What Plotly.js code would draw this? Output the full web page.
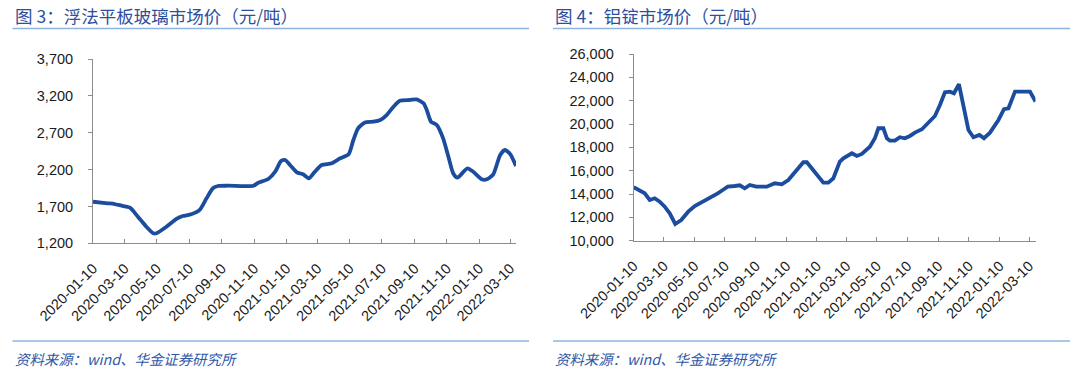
<!DOCTYPE html>
<html>
<head>
<meta charset="utf-8">
<script src="https://cdn.plot.ly/plotly-3.0.1.min.js"></script>
<style>
html,body{margin:0;padding:0;background:#fff;}
#chart{width:1080px;height:373px;}
</style>
</head>
<body>
<div id="chart"></div>
<script>
// 图3：浮法平板玻璃市场价（元/吨）
const glassDates = ['2020-01-10','2020-02-07','2020-02-20','2020-03-04','2020-03-20','2020-04-04','2020-04-20','2020-05-03','2020-05-09','2020-05-28','2020-06-16','2020-06-28','2020-07-14','2020-07-30','2020-08-12','2020-08-24','2020-09-03','2020-09-22','2020-11-09','2020-11-18','2020-12-07','2020-12-20','2020-12-31','2021-01-08','2021-01-17','2021-01-30','2021-02-11','2021-02-22','2021-03-05','2021-03-18','2021-04-06','2021-04-22','2021-05-08','2021-05-17','2021-05-26','2021-06-08','2021-06-24','2021-07-07','2021-07-19','2021-08-01','2021-08-13','2021-09-01','2021-09-14','2021-09-27','2021-10-03','2021-10-11','2021-10-22','2021-11-03','2021-11-13','2021-11-22','2021-11-30','2021-12-19','2021-12-30','2022-01-15','2022-01-25','2022-02-06','2022-02-19','2022-02-28','2022-03-10','2022-03-21'];
const glassValues = [1764,1743,1733,1710,1683,1561,1425,1336,1336,1425,1530,1570,1593,1652,1810,1946,1977,1981,1981,2022,2072,2171,2316,2330,2262,2163,2136,2082,2171,2262,2285,2353,2407,2601,2760,2840,2850,2873,2940,3053,3134,3144,3153,3099,3008,2850,2805,2624,2375,2150,2090,2217,2171,2068,2068,2136,2398,2466,2410,2249];

// 图4：铝锭市场价（元/吨）
const alDates = ['2020-01-10','2020-02-01','2020-02-11','2020-02-21','2020-03-02','2020-03-12','2020-03-22','2020-04-02','2020-04-14','2020-04-28','2020-05-11','2020-05-21','2020-06-03','2020-06-17','2020-06-26','2020-07-06','2020-07-16','2020-07-30','2020-08-09','2020-08-19','2020-08-29','2020-09-11','2020-10-02','2020-10-18','2020-11-01','2020-11-14','2020-12-01','2020-12-14','2020-12-21','2021-01-06','2021-01-23','2021-02-02','2021-02-12','2021-02-25','2021-03-04','2021-03-21','2021-03-31','2021-04-10','2021-04-26','2021-05-06','2021-05-13','2021-05-23','2021-05-30','2021-06-05','2021-06-15','2021-06-25','2021-07-05','2021-07-15','2021-07-25','2021-08-08','2021-08-21','2021-09-03','2021-09-13','2021-09-23','2021-10-03','2021-10-11','2021-10-21','2021-10-30','2021-11-09','2021-11-19','2021-12-01','2021-12-10','2021-12-22','2022-01-08','2022-01-19','2022-01-28','2022-02-07','2022-02-10','2022-02-20','2022-03-12','2022-03-23'];
const alValues = [14578,14063,13489,13635,13343,12915,12349,11432,11775,12486,12975,13206,13489,13772,14063,14347,14629,14689,14749,14492,14775,14629,14629,14921,14835,15204,16061,16721,16721,15915,14972,14972,15350,16772,17064,17493,17261,17433,18058,18779,19636,19636,18779,18573,18573,18865,18779,18976,19259,19550,20065,20690,21634,22722,22774,22637,23408,21488,19490,18865,19062,18779,19259,20347,21265,21350,22491,22774,22774,22774,21916];

const tickDates = ['2020-01-10','2020-03-10','2020-05-10','2020-07-10','2020-09-10','2020-11-10','2021-01-10','2021-03-10','2021-05-10','2021-07-10','2021-09-10','2021-11-10','2022-01-10','2022-03-10'];
const tickLabels = tickDates.slice();

const leftTitle = '图 3：浮法平板玻璃市场价（元/吨）';
const rightTitle = '图 4：铝锭市场价（元/吨）';
const sourceText = '资料来源：wind、华金证券研究所';

const W = 1080, H = 373;
const px = v => v / W;
const py = v => 1 - v / H;

const lineColor = '#1B4C9E';
const axisColor = '#8c8c8c';
const tickFont = {family: '"Liberation Sans", Arial, sans-serif', size: 14.5, color: '#1a1a1a'};

const traces = [
  {x: glassDates, y: glassValues, type: 'scatter', mode: 'lines', xaxis: 'x', yaxis: 'y',
   line: {color: lineColor, width: 3.8, shape: 'spline', smoothing: 0.6}, hoverinfo: 'x+y'},
  {x: alDates, y: alValues, type: 'scatter', mode: 'lines', xaxis: 'x2', yaxis: 'y2',
   line: {color: lineColor, width: 3.8}, hoverinfo: 'x+y'}
];

function xAxis(domain, range, anchor) {
  return {
    type: 'date', domain: domain, range: range, anchor: anchor,
    tickmode: 'array', tickvals: tickDates, ticktext: tickLabels,
    tickangle: -45, ticks: 'inside', ticklen: 4, tickcolor: axisColor, tickwidth: 1,
    showline: true, linecolor: axisColor, linewidth: 1, showgrid: false, zeroline: false,
    tickfont: tickFont, ticklabelstandoff: 10
  };
}
function yAxis(domain, range, dtick, anchor) {
  return {
    domain: domain, range: range, dtick: dtick, tick0: range[0], anchor: anchor,
    tickformat: ',d', ticks: 'outside', ticklen: 4, tickcolor: axisColor, tickwidth: 1,
    showline: true, linecolor: axisColor, linewidth: 1, showgrid: false, zeroline: false,
    tickfont: tickFont, ticklabelstandoff: 12
  };
}

const titleFont = {family: '"Noto Sans CJK SC", sans-serif', size: 17.5, color: '#2F4F9E'};
const srcFont = {family: '"Noto Sans CJK SC", sans-serif', size: 14.4, color: '#2F57A6', style: 'italic'};

const layout = {
  width: W, height: H,
  margin: {l: 0, r: 0, t: 0, b: 0},
  paper_bgcolor: '#fff', plot_bgcolor: '#fff',
  showlegend: false,
  xaxis: xAxis([px(93), px(516)], ['2020-01-10', '2022-03-21'], 'y'),
  yaxis: yAxis([py(243.3), py(59)], [1200, 3700], 500, 'x'),
  xaxis2: xAxis([px(633.7), px(1035.5)], ['2020-01-10', '2022-03-23'], 'y2'),
  yaxis2: yAxis([py(240.7), py(54)], [10000, 26000], 2000, 'x2'),
  shapes: [
    {type: 'line', xref: 'paper', yref: 'paper', x0: px(12.5), x1: px(529), y0: py(28.5), y1: py(28.5), line: {color: '#8DB4E2', width: 1.6}},
    {type: 'line', xref: 'paper', yref: 'paper', x0: px(553), x1: px(1070), y0: py(28.5), y1: py(28.5), line: {color: '#8DB4E2', width: 1.6}},
    {type: 'line', xref: 'paper', yref: 'paper', x0: px(12.5), x1: px(529), y0: py(341), y1: py(341), line: {color: '#8DB4E2', width: 1.6}},
    {type: 'line', xref: 'paper', yref: 'paper', x0: px(553), x1: px(1070), y0: py(341), y1: py(341), line: {color: '#8DB4E2', width: 1.6}}
  ],
  annotations: [
    {text: leftTitle, xref: 'paper', yref: 'paper', x: px(13), y: py(15), xanchor: 'left', yanchor: 'middle', showarrow: false, font: titleFont},
    {text: rightTitle, xref: 'paper', yref: 'paper', x: px(553), y: py(15), xanchor: 'left', yanchor: 'middle', showarrow: false, font: titleFont},
    {text: sourceText, xref: 'paper', yref: 'paper', x: px(13), y: py(358), xanchor: 'left', yanchor: 'middle', showarrow: false, font: srcFont},
    {text: sourceText, xref: 'paper', yref: 'paper', x: px(553), y: py(358), xanchor: 'left', yanchor: 'middle', showarrow: false, font: srcFont}
  ]
};

Plotly.newPlot('chart', traces, layout, {displayModeBar: false, staticPlot: true});
</script>
</body>
</html>
